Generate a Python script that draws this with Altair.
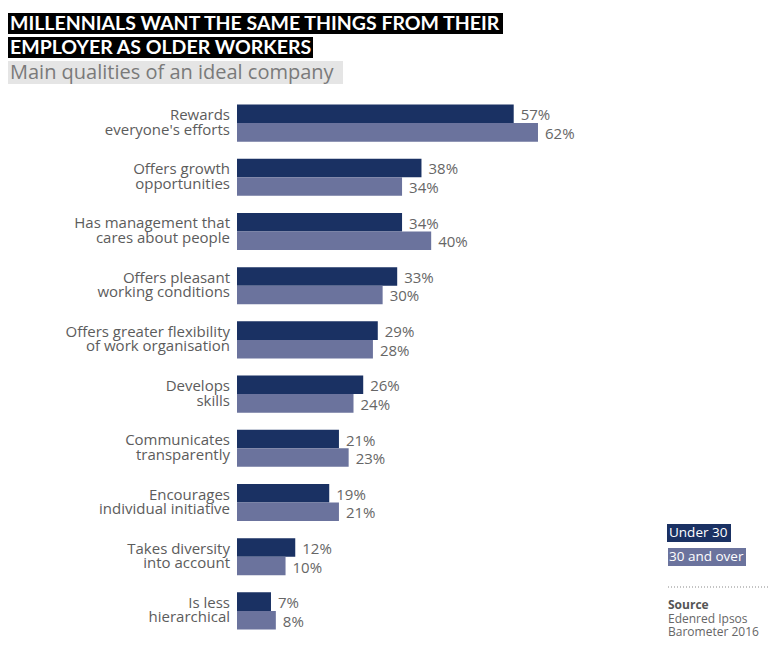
import altair as alt
import pandas as pd

categories = [
    "Rewards\neveryone's efforts",
    "Offers growth\nopportunities",
    "Has management that\ncares about people",
    "Offers pleasant\nworking conditions",
    "Offers greater flexibility\nof work organisation",
    "Develops\nskills",
    "Communicates\ntransparently",
    "Encourages\nindividual initiative",
    "Takes diversity\ninto account",
    "Is less\nhierarchical",
]
groups = ["Under 30", "30 and over"]
under_30 = [57, 38, 34, 33, 29, 26, 21, 19, 12, 7]
over_30 = [62, 34, 40, 30, 28, 24, 23, 21, 10, 8]

title_lines = ["MILLENNIALS WANT THE SAME THINGS FROM THEIR", "EMPLOYER AS OLDER WORKERS"]
subtitle = "Main qualities of an ideal company"
source_lines = ["Source", "Edenred Ipsos", "Barometer 2016"]

DARK = "#1a3163"
LIGHT = "#6b739d"
GRAY = "#5c5c5c"
FONT = "Lato"
FONT2 = "Open Sans"

rows = []
for i, c in enumerate(categories):
    rows.append({"cat": c, "grp": groups[0], "val": under_30[i], "key": c.replace("\n", " ")})
    rows.append({"cat": c, "grp": groups[1], "val": over_30[i], "key": c.replace("\n", " ")})
df = pd.DataFrame(rows)
keys = [c.replace("\n", " ") for c in categories]

yscale = alt.Scale(domain=keys, paddingInner=0.315, paddingOuter=0.157)
xscale = alt.Scale(domain=[0, 110])
cscale = alt.Scale(domain=groups, range=[DARK, LIGHT])

base = alt.Chart(df).encode(
    y=alt.Y("key:N", sort=keys, scale=yscale, axis=None),
    yOffset=alt.YOffset("grp:N", sort=groups),
    x=alt.X("val:Q", scale=xscale, axis=None),
)

bars = base.mark_bar().encode(
    color=alt.Color("grp:N", scale=cscale, legend=None)
)

vals = base.transform_calculate(lab="datum.val + '%'").mark_text(
    align="left", baseline="middle", dx=7, dy=1.5, fontSize=15, font=FONT2, color="#666666"
).encode(text="lab:N")

catdf = pd.DataFrame({"key": keys, "label": categories})
catlabels = alt.Chart(catdf).mark_text(
    align="right", baseline="alphabetic", lineBreak="\n", lineHeight=14.5, dy=-3,
    fontSize=15, font=FONT2, color=GRAY
).encode(
    y=alt.Y("key:N", sort=keys, scale=yscale, axis=None),
    x=alt.value(-7),
    text="label:N",
)

# Title boxes
tdf = pd.DataFrame({"t": [0]})
box1 = alt.Chart(tdf).mark_rect(color="black").encode(
    x=alt.value(-229), x2=alt.value(266), y=alt.value(-83), y2=alt.value(-62))
box2 = alt.Chart(tdf).mark_rect(color="black").encode(
    x=alt.value(-229), x2=alt.value(76), y=alt.value(-59), y2=alt.value(-38))
box3 = alt.Chart(tdf).mark_rect(color="#e5e5e5").encode(
    x=alt.value(-229), x2=alt.value(106), y=alt.value(-35), y2=alt.value(-12))

t1 = alt.Chart(pd.DataFrame({"t": [title_lines[0]]})).mark_text(
    align="left", baseline="alphabetic", fontSize=19.5, font=FONT, fontWeight="bold", color="white"
).encode(x=alt.value(-227), y=alt.value(-66), text="t:N")
t2 = alt.Chart(pd.DataFrame({"t": [title_lines[1]]})).mark_text(
    align="left", baseline="alphabetic", fontSize=19.5, font=FONT, fontWeight="bold", color="white"
).encode(x=alt.value(-227), y=alt.value(-42), text="t:N")
t3 = alt.Chart(pd.DataFrame({"t": [subtitle]})).mark_text(
    align="left", baseline="alphabetic", fontSize=20, font=FONT2, color="#7a7a7a"
).encode(x=alt.value(-227), y=alt.value(-17), text="t:N")

# Legend
leg1 = alt.Chart(tdf).mark_rect(color=DARK).encode(
    x=alt.value(430), x2=alt.value(494), y=alt.value(428), y2=alt.value(446))
leg2 = alt.Chart(tdf).mark_rect(color=LIGHT).encode(
    x=alt.value(431), x2=alt.value(509), y=alt.value(452), y2=alt.value(470))
lt1 = alt.Chart(pd.DataFrame({"t": [groups[0]]})).mark_text(
    align="left", baseline="middle", fontSize=13.5, font=FONT2, color="white"
).encode(x=alt.value(432), y=alt.value(437), text="t:N")
lt2 = alt.Chart(pd.DataFrame({"t": [groups[1]]})).mark_text(
    align="left", baseline="middle", fontSize=13.5, font=FONT2, color="white"
).encode(x=alt.value(432), y=alt.value(461), text="t:N")
dots = alt.Chart(tdf).mark_rule(color="#888888", strokeDash=[1, 2], strokeWidth=1).encode(
    x=alt.value(431), x2=alt.value(533), y=alt.value(491))
src1 = alt.Chart(pd.DataFrame({"t": [source_lines[0]]})).mark_text(
    align="left", baseline="middle", fontSize=12, font=FONT2, fontWeight="bold", color="#555555"
).encode(x=alt.value(431), y=alt.value(509), text="t:N")
src2 = alt.Chart(pd.DataFrame({"t": [source_lines[1]]})).mark_text(
    align="left", baseline="middle", fontSize=12, font=FONT2, color="#666666"
).encode(x=alt.value(431), y=alt.value(523), text="t:N")
src3 = alt.Chart(pd.DataFrame({"t": [source_lines[2]]})).mark_text(
    align="left", baseline="middle", fontSize=12, font=FONT2, color="#666666"
).encode(x=alt.value(431), y=alt.value(536), text="t:N")

chart = alt.layer(
    box1, box2, box3, t1, t2, t3,
    bars, vals, catlabels,
    leg1, leg2, lt1, lt2, dots, src1, src2, src3,
).properties(
    width=534, height=542,
    padding={"left": 237, "top": 96, "right": 1, "bottom": 13},
    autosize=alt.AutoSizeParams(type="none"),
    background="white",
).configure_view(stroke=None)

chart.save("out.html", embed_options={"renderer": "svg", "actions": False})
